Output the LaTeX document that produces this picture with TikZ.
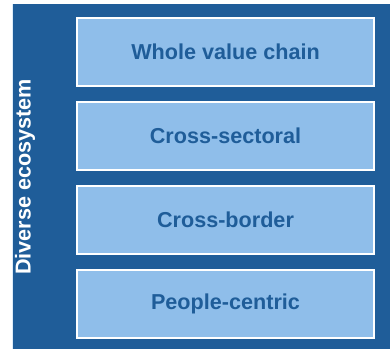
\documentclass[tikz,border=0pt]{standalone}
\usepackage{fontspec}
\setmainfont{Liberation Sans}
\definecolor{ecoDark}{RGB}{31,93,153}
\definecolor{ecoLight}{RGB}{143,190,234}

\begin{document}
\begin{tikzpicture}[
    x = 0.5pt,
    y = -0.5pt,
    font = \fontsize{10.8}{13}\selectfont\bfseries,
    level/.style = {fill = ecoLight, draw = white, line width = 0.6pt, text = ecoDark,
      minimum height = 34pt, minimum width = 148.5pt, inner sep = 0pt}
  ]
    \useasboundingbox (0, 0) rectangle (390, 349);
    \fill[ecoDark] (12, 4) rectangle (390, 349);
    \draw[white!70!ecoLight, line width = 0.4pt] (12.3, 4) -- (12.3, 349);
    \node[text = white, rotate = 90] (diverse_ecosystem) at (25, 177) {Diverse ecosystem};
    \node[level] (whole_value_chain) at (225.5, 52) {Whole value chain};
    \node[level] (cross_sectoral) at (225.5, 136) {Cross-sectoral};
    \node[level] (cross_border) at (225.5, 220) {Cross-border};
    \node[level] (people_centric) at (225.5, 304) {People-centric};
  \end{tikzpicture}
\end{document}
